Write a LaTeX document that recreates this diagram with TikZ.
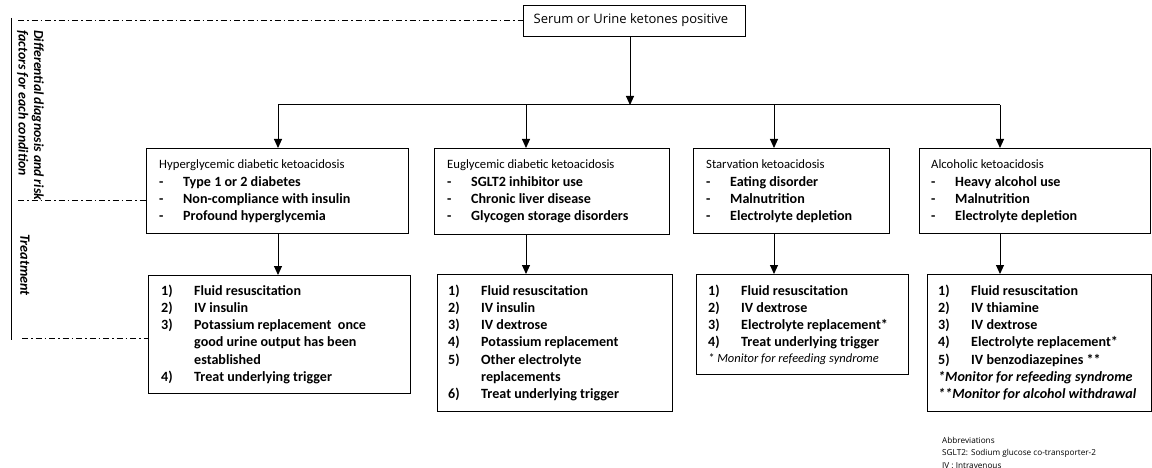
\documentclass[tikz,border=0pt]{standalone}
\usepackage{fontspec}
\setmainfont{Carlito}
\newfontfamily\segoe{Open Sans}
\usetikzlibrary{arrows.meta}
\tikzset{
  box/.style={draw=black, line width=1pt, rectangle, inner sep=0pt, anchor=north west},
  arr/.style={line width=1pt, -{Triangle[width=8pt,length=9pt]}},
  ln/.style={line width=1pt},
  dd/.style={line width=0.9pt, dash pattern=on 6pt off 3pt on 1.5pt off 3pt},
  txt/.style={anchor=base west, inner sep=0pt, font=\fontsize{12.7}{17.3}\selectfont},
  lst/.style={anchor=base west, inner sep=0pt, font=\fontsize{14.1}{17.3}\selectfont\bfseries},
  side/.style={inner sep=0pt, rotate=-90, font=\fontsize{13.8}{15.5}\selectfont\bfseries\itshape}
}
\newcommand{\dsh}{\makebox[24pt][l]{-}}
\newcommand{\itm}[1]{\makebox[33pt][l]{#1}}
\newcommand{\bt}{\fontsize{14.1}{17.3}\selectfont\bfseries}
\begin{document}
\begin{tikzpicture}[x=1pt,y=-1pt]
\useasboundingbox (0,0) rectangle (1152,468);
% boxes
\node[box, minimum width=222pt, minimum height=31pt] (top) at (523,5) {};
\node[font=\fontsize{13}{15}\selectfont\segoe, inner sep=0pt] (toptxt) at (631,20.5) {Serum or Urine ketones positive};

\node[box, minimum width=262pt, minimum height=85pt] (b1) at (146,148) {};
\node[box, minimum width=235pt, minimum height=86pt] (b2) at (434,148) {};
\node[box, minimum width=196pt, minimum height=85pt] (b3) at (693,148) {};
\node[box, minimum width=231pt, minimum height=85pt] (b4) at (919,148) {};

\node[box, minimum width=262pt, minimum height=118pt] (t1) at (148,275) {};
\node[box, minimum width=235pt, minimum height=137pt] (t2) at (437,274) {};
\node[box, minimum width=212pt, minimum height=100pt] (t3) at (696,274) {};
\node[box, minimum width=224pt, minimum height=137pt] (t4) at (927,274) {};

% texts row 2
\node[txt] (b1t) at (159,169) {\begin{tabular}[t]{@{}l@{}}Hyperglycemic diabetic ketoacidosis\\
\bt\dsh Type 1 or 2 diabetes\\ \bt\dsh Non-compliance with insulin\\ \bt\dsh Profound hyperglycemia\end{tabular}};
\node[txt] (b2t) at (447,169) {\begin{tabular}[t]{@{}l@{}}Euglycemic diabetic ketoacidosis\\
\bt\dsh SGLT2 inhibitor use\\ \bt\dsh Chronic liver disease\\ \bt\dsh Glycogen storage disorders\end{tabular}};
\node[txt] (b3t) at (706,169) {\begin{tabular}[t]{@{}l@{}}Starvation ketoacidosis\\
\bt\dsh Eating disorder\\ \bt\dsh Malnutrition\\ \bt\dsh Electrolyte depletion\end{tabular}};
\node[txt] (b4t) at (931,169) {\begin{tabular}[t]{@{}l@{}}Alcoholic ketoacidosis\\
\bt\dsh Heavy alcohol use\\ \bt\dsh Malnutrition\\ \bt\dsh Electrolyte depletion\end{tabular}};

% texts row 3
\node[lst] (t1t) at (161,295) {\begin{tabular}[t]{@{}l@{}}\itm{1)}Fluid resuscitation\\
\itm{2)}IV insulin\\ \itm{3)}Potassium replacement\ \ once\\ \itm{}good urine output has been\\ \itm{}established\\ \itm{4)}Treat underlying trigger\end{tabular}};
\node[lst] (t2t) at (448,295) {\begin{tabular}[t]{@{}l@{}}\itm{1)}Fluid resuscitation\\
\itm{2)}IV insulin\\ \itm{3)}IV dextrose\\ \itm{4)}Potassium replacement\\ \itm{5)}Other electrolyte\\ \itm{}replacements\\ \itm{6)}Treat underlying trigger\end{tabular}};
\node[lst] (t3t) at (708,295) {\begin{tabular}[t]{@{}l@{}}\itm{1)}Fluid resuscitation\\
\itm{2)}IV dextrose\\ \itm{3)}Electrolyte replacement*\\ \itm{4)}Treat underlying trigger\\[-1.5pt] {\fontsize{12.5}{14}\selectfont\mdseries\itshape * Monitor for refeeding syndrome}\end{tabular}};
\node[lst] (t4t) at (938,295) {\begin{tabular}[t]{@{}l@{}}\itm{1)}Fluid resuscitation\\
\itm{2)}IV thiamine\\ \itm{3)}IV dextrose\\ \itm{4)}Electrolyte replacement*\\ \itm{5)}IV benzodiazepines **\\ \itshape *Monitor for refeeding syndrome\\ \itshape **Monitor for alcohol withdrawal\end{tabular}};

% abbreviations
\node[anchor=base west, inner sep=0pt, font=\fontsize{8.2}{12.5}\selectfont\segoe] (abbr) at (942,443) {\begin{tabular}[t]{@{}l@{}}Abbreviations\\SGLT2: Sodium glucose co-transporter-2\\IV : Intravenous\end{tabular}};

% connectors
\coordinate (hM) at (630,105);
\coordinate (c1) at (278,105);
\coordinate (c2) at (526,105);
\coordinate (c3) at (774,105);
\coordinate (c4) at (1000,105);
\draw[arr] (hM |- top.south) -- (hM);
\draw[ln] (c1) -- (c4);
\draw[arr] (c1) -- (c1 |- b1.north);
\draw[arr] (c2) -- (c2 |- b2.north);
\draw[arr] (c3) -- (c3 |- b3.north);
\draw[arr] (c4) -- (c4 |- b4.north);
\draw[arr] (c1 |- b1.south) -- (c1 |- t1.north);
\draw[arr] (c2 |- b2.south) -- (c2 |- t2.north);
\draw[arr] (c3 |- b3.south) -- (c3 |- t3.north);
\draw[arr] (c4 |- b4.south) -- (c4 |- t4.north);

% side rules
\coordinate (vTop) at (11,18);
\coordinate (vBot) at (11,340);
\draw[ln] (vTop) -- (vBot);
\coordinate (d1) at (18,20);
\coordinate (d2) at (18,200);
\coordinate (d3) at (22,338);
\draw[dd] (d1) -- (d1 -| top.west);
\draw[dd] (d2) -- (d2 -| b1.west);
\draw[dd] (d3) -- (d3 -| t1.west);

\node[side, align=left, anchor=north west] (lab1) at (44,30) {Differential diagnosis and risk\\factors for each condition};
\node[side, font=\fontsize{14.2}{16}\selectfont\bfseries\itshape] (lab2) at (25,265) {Treatment};
\end{tikzpicture}
\end{document}
